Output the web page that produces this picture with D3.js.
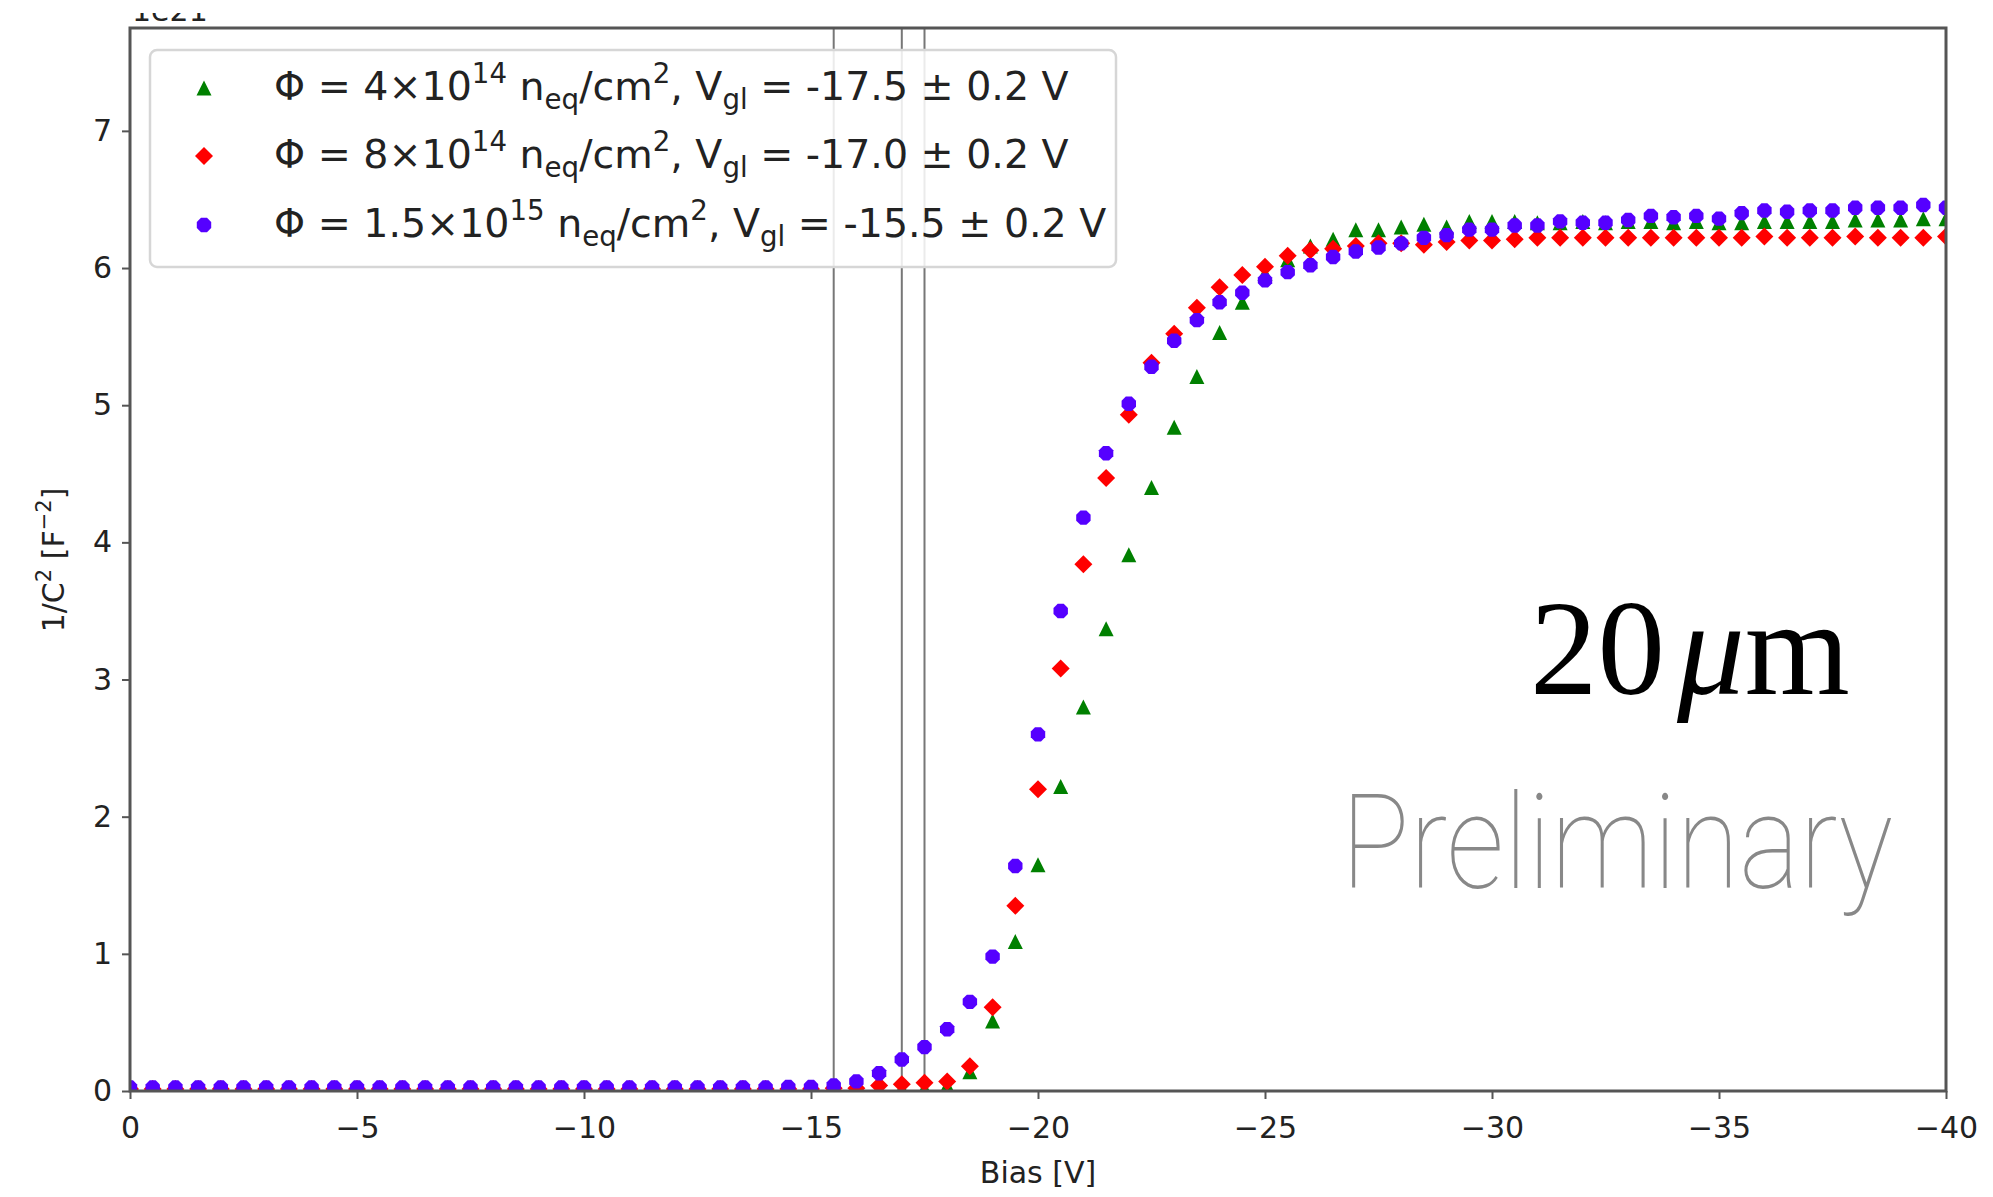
<!DOCTYPE html>
<html>
<head>
<meta charset="utf-8">
<script src="https://cdn.jsdelivr.net/npm/d3@7"></script>
<style>
  body { margin: 0; background: #fff; }
  svg text { font-family: "DejaVu Sans", sans-serif; fill: #222; white-space: pre; }
</style>
</head>
<body>
<div id="chart"></div>
<script>
// bias voltage (x values), 0.5 V steps
const bias = [0, -0.5, -1, -1.5, -2, -2.5, -3, -3.5, -4, -4.5, -5, -5.5, -6, -6.5, -7, -7.5, -8, -8.5, -9, -9.5,
  -10, -10.5, -11, -11.5, -12, -12.5, -13, -13.5, -14, -14.5, -15, -15.5, -16, -16.5, -17, -17.5, -18, -18.5, -19, -19.5,
  -20, -20.5, -21, -21.5, -22, -22.5, -23, -23.5, -24, -24.5, -25, -25.5, -26, -26.5, -27, -27.5, -28, -28.5, -29, -29.5,
  -30, -30.5, -31, -31.5, -32, -32.5, -33, -33.5, -34, -34.5, -35, -35.5, -36, -36.5, -37, -37.5, -38, -38.5, -39, -39.5, -40];

// 1/C^2 in units of 1e21 F^-2
const phi4e14 = [0.01, 0.01, 0.01, 0.01, 0.01, 0.01, 0.01, 0.01, 0.01, 0.01, 0.01, 0.01, 0.01, 0.01, 0.01, 0.01, 0.01, 0.01, 0.01, 0.01,
  0.01, 0.01, 0.01, 0.01, 0.01, 0.01, 0.01, 0.01, 0.01, 0.01, 0.01, 0.01, 0.01, 0.02, 0.02, 0.02, 0.04, 0.14, 0.51, 1.09,
  1.65, 2.22, 2.80, 3.37, 3.91, 4.40, 4.84, 5.21, 5.53, 5.75, 5.96, 6.06, 6.16, 6.21, 6.28, 6.28, 6.30, 6.32, 6.30, 6.34,
  6.34, 6.34, 6.33, 6.33, 6.34, 6.33, 6.34, 6.34, 6.33, 6.34, 6.33, 6.33, 6.34, 6.34, 6.34, 6.34, 6.35, 6.35, 6.35, 6.36, 6.36];

const phi8e14 = [0.015, 0.015, 0.015, 0.015, 0.015, 0.015, 0.015, 0.015, 0.015, 0.015, 0.015, 0.015, 0.015, 0.015, 0.015, 0.015, 0.015, 0.015, 0.015, 0.015,
  0.015, 0.015, 0.015, 0.015, 0.015, 0.015, 0.015, 0.015, 0.015, 0.015, 0.015, 0.02, 0.02, 0.04, 0.05, 0.06, 0.07, 0.18, 0.61, 1.35,
  2.20, 3.08, 3.84, 4.47, 4.93, 5.31, 5.52, 5.71, 5.86, 5.95, 6.01, 6.09, 6.13, 6.14, 6.16, 6.18, 6.18, 6.17, 6.19, 6.20,
  6.20, 6.21, 6.22, 6.22, 6.22, 6.22, 6.22, 6.22, 6.22, 6.22, 6.22, 6.22, 6.23, 6.22, 6.22, 6.22, 6.23, 6.22, 6.22, 6.22, 6.23];

const phi15e15 = [0.025, 0.025, 0.025, 0.025, 0.025, 0.025, 0.025, 0.025, 0.025, 0.025, 0.025, 0.025, 0.025, 0.025, 0.025, 0.025, 0.025, 0.025, 0.025, 0.025,
  0.025, 0.025, 0.025, 0.025, 0.025, 0.025, 0.025, 0.025, 0.025, 0.03, 0.03, 0.04, 0.07, 0.13, 0.23, 0.32, 0.45, 0.65, 0.98, 1.64,
  2.60, 3.50, 4.18, 4.65, 5.01, 5.28, 5.47, 5.62, 5.75, 5.82, 5.91, 5.97, 6.02, 6.08, 6.12, 6.15, 6.18, 6.22, 6.24, 6.28,
  6.28, 6.31, 6.31, 6.34, 6.33, 6.33, 6.35, 6.38, 6.37, 6.38, 6.36, 6.40, 6.42, 6.41, 6.42, 6.42, 6.44, 6.44, 6.44, 6.46, 6.44];

// legend pieces
const phiMantissa = ["4×10", "8×10", "1.5×10"];
const phiExponent = ["14", "14", "15"];
const vgl = [-17.5, -17.0, -15.5];
const seriesColors = ["#008000", "#ff0000", "#5500ff"];

const xTicks = [0, -5, -10, -15, -20, -25, -30, -35, -40];
const yTicks = [0, 1, 2, 3, 4, 5, 6, 7];

const W = 1993, H = 1197;
const plot = {left: 130, right: 1946, top: 28, bottom: 1091};

const svg = d3.select("#chart").append("svg")
  .attr("width", W).attr("height", H);

const x = d3.scaleLinear().domain([0, -40]).range([plot.left, plot.right]);
const y = d3.scaleLinear().domain([0, 7.75]).range([plot.bottom, plot.top]);

// marker shapes like matplotlib ^, D and 8 (size = half extent)
const triangleUp = { draw(c, r) { c.moveTo(0, -r); c.lineTo(r, r); c.lineTo(-r, r); c.closePath(); } };
const diamond = { draw(c, r) { c.moveTo(0, -r); c.lineTo(r, 0); c.lineTo(0, r); c.lineTo(-r, 0); c.closePath(); } };
const octagon = { draw(c, r) {
  for (let k = 0; k < 8; k++) {
    const a = Math.PI / 8 + k * Math.PI / 4;
    if (k === 0) c.moveTo(r * Math.cos(a), r * Math.sin(a));
    else c.lineTo(r * Math.cos(a), r * Math.sin(a));
  }
  c.closePath();
} };
const markerTypes = [triangleUp, diamond, octagon];
const markerSizes = [7.5, 9, 7.8];
const seriesValues = [phi4e14, phi8e14, phi15e15];

svg.append("clipPath").attr("id", "plotclip")
  .append("rect")
  .attr("x", plot.left).attr("y", plot.top)
  .attr("width", plot.right - plot.left).attr("height", plot.bottom - plot.top);

// cut-off offset text at the very top
svg.append("clipPath").attr("id", "topclip")
  .append("rect").attr("x", 0).attr("y", 13).attr("width", 400).attr("height", 12);
svg.append("text")
  .attr("x", 132).attr("y", 21)
  .attr("font-size", 30)
  .attr("clip-path", "url(#topclip)")
  .text("1e21");

// vertical lines at the V_gl values
svg.append("g").selectAll("line")
  .data(vgl)
  .enter().append("line")
    .attr("x1", d => x(d)).attr("x2", d => x(d))
    .attr("y1", plot.top).attr("y2", plot.bottom)
    .attr("stroke", "#777").attr("stroke-width", 2);

// scatter points
const points = svg.append("g").attr("clip-path", "url(#plotclip)");
seriesValues.forEach((vals, s) => {
  points.append("g").selectAll("path")
    .data(vals)
    .enter().append("path")
      .attr("d", d3.symbol().type(markerTypes[s]).size(markerSizes[s]))
      .attr("transform", (d, i) => "translate(" + x(bias[i]) + "," + y(d) + ")")
      .attr("fill", seriesColors[s]);
});

// axes
const xAxis = svg.append("g")
  .attr("transform", "translate(0," + plot.bottom + ")")
  .call(d3.axisBottom(x).tickValues(xTicks).tickSize(8).tickPadding(18));
const yAxis = svg.append("g")
  .attr("transform", "translate(" + plot.left + ",0)")
  .call(d3.axisLeft(y).tickValues(yTicks).tickSize(8).tickPadding(10));
[xAxis, yAxis].forEach(a => {
  a.select(".domain").remove();
  a.selectAll(".tick line").attr("stroke", "#555").attr("stroke-width", 2);
  a.selectAll(".tick text").attr("font-size", 30);
});

// frame
svg.append("rect")
  .attr("x", plot.left).attr("y", plot.top)
  .attr("width", plot.right - plot.left).attr("height", plot.bottom - plot.top)
  .attr("fill", "none").attr("stroke", "#555").attr("stroke-width", 3);

// text with sub/superscripts
function richText(sel, parts, fs) {
  let shift = 0;
  parts.forEach(([t, mode]) => {
    const target = mode === "sup" ? -0.42 * fs : mode === "sub" ? 0.24 * fs : 0;
    sel.append("tspan")
      .attr("dy", target - shift)
      .attr("font-size", mode ? fs * 0.7 : fs)
      .text(t);
    shift = target;
  });
}

// axis labels
svg.append("text")
  .attr("x", x(-20)).attr("y", 1183)
  .attr("text-anchor", "middle")
  .attr("font-size", 30)
  .text("Bias [V]");

const ylab = svg.append("text")
  .attr("transform", "translate(64,560) rotate(-90)")
  .attr("text-anchor", "middle")
  .attr("font-size", 30);
richText(ylab, [["1/C"], ["2", "sup"], [" [F"], ["−2", "sup"], ["]"]], 30);

// legend
const legend = svg.append("g");
legend.append("rect")
  .attr("x", 150).attr("y", 50).attr("width", 966).attr("height", 217)
  .attr("rx", 7)
  .attr("fill", "#fff").attr("fill-opacity", 0.85)
  .attr("stroke", "#d6d6d6").attr("stroke-width", 2.5);

const rowBase = [100, 168, 237];
const legendSize = 39.5;
seriesColors.forEach((col, s) => {
  legend.append("path")
    .attr("d", d3.symbol().type(markerTypes[s]).size(markerSizes[s]))
    .attr("transform", "translate(204," + (rowBase[s] - 12) + ")")
    .attr("fill", col);
  const t = legend.append("text")
    .attr("x", 274).attr("y", rowBase[s])
    .attr("font-size", legendSize);
  richText(t, [
    ["Φ = " + phiMantissa[s]], [phiExponent[s], "sup"],
    [" n"], ["eq", "sub"], ["/cm"], ["2", "sup"],
    [", V"], ["gl", "sub"],
    [" = " + vgl[s].toFixed(1) + " ± 0.2 V"]
  ], legendSize);
});

// annotations
const thick = svg.append("text")
  .attr("x", 1530).attr("y", 694)
  .attr("font-size", 135)
  .style("font-family", "'Liberation Serif', 'Times New Roman', serif")
  .style("fill", "#000");
thick.append("tspan").text("20");
thick.append("tspan").attr("dx", 12).style("font-style", "italic").text("μ");
thick.append("tspan").text("m");

svg.append("text")
  .attr("x", 1341).attr("y", 888)
  .attr("font-size", 132)
  .attr("textLength", 552)
  .attr("lengthAdjust", "spacingAndGlyphs")
  .style("font-family", "Roboto, Lato, Inter, sans-serif")
  .style("font-weight", 100)
  .style("fill", "#888")
  .text("Preliminary");
</script>
</body>
</html>
